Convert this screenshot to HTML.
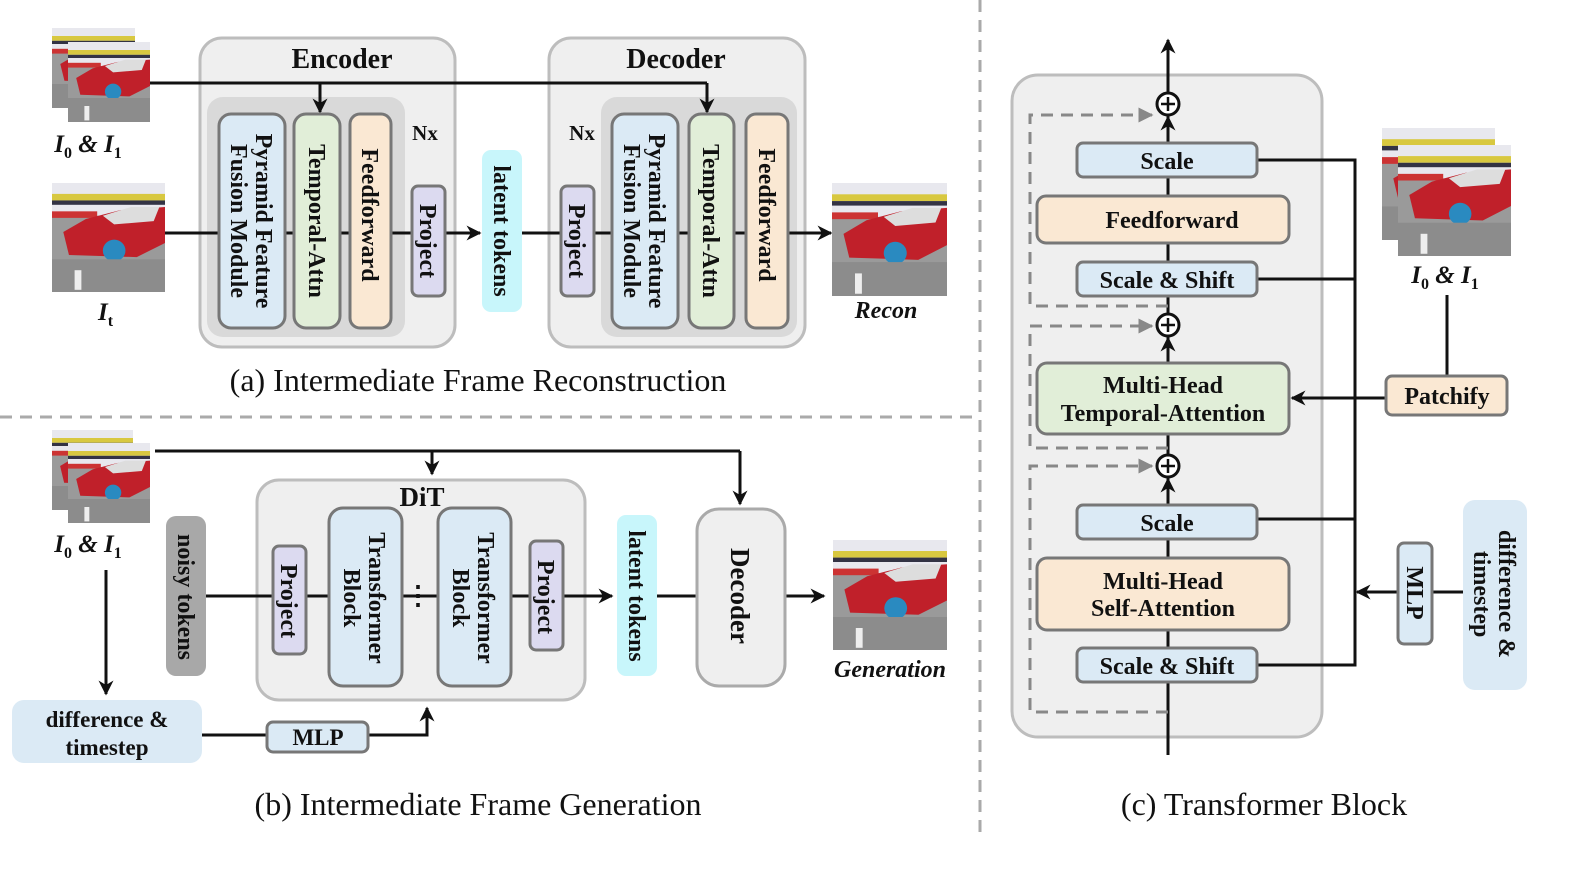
<!DOCTYPE html>
<html><head><meta charset="utf-8"><style>
html,body{margin:0;padding:0;background:#fff}
svg{display:block}
text{font-family:"Liberation Serif",serif;fill:#111}
.b{font-weight:bold}
</style></head><body>
<svg width="1578" height="888" viewBox="0 0 1578 888" xmlns="http://www.w3.org/2000/svg">
<defs>
<marker id="ar" viewBox="0 0 10 10" refX="9" refY="5" markerWidth="5" markerHeight="5" orient="auto"><path d="M0,0 L10,5 L0,10 L3,5z" fill="#111"/></marker>
<marker id="ag" viewBox="0 0 10 10" refX="9" refY="5" markerWidth="5" markerHeight="5" orient="auto"><path d="M0,0 L10,5 L0,10z" fill="#888"/></marker>
<symbol id="car" viewBox="0 0 100 100" preserveAspectRatio="none">
<rect width="100" height="100" fill="#9a9a9a"/>
<rect width="100" height="30" fill="#e8e8ee"/>
<rect y="10" width="100" height="6" fill="#d8c840"/>
<rect y="16" width="100" height="4" fill="#334"/>
<rect y="26" width="40" height="6" fill="#c33"/>
<path d="M10,45 L30,33 L60,25 L100,22 L100,55 L75,68 L15,66z" fill="#c0202a"/>
<path d="M45,30 L70,22 L95,22 L90,35 L55,38z" fill="#ddd"/>
<circle cx="55" cy="62" r="10" fill="#2a8ac0"/>
<rect y="70" width="100" height="30" fill="#8c8c8c"/>
<rect x="20" y="80" width="6" height="18" fill="#eee"/>
</symbol>
</defs>

<!-- dividers -->
<line x1="0" y1="417" x2="975" y2="417" stroke="#aaa" stroke-width="3" stroke-dasharray="12,8"/>
<line x1="980" y1="0" x2="980" y2="835" stroke="#aaa" stroke-width="3" stroke-dasharray="12,8"/>

<!-- ===== (a) ===== -->
<use href="#car" x="52" y="28" width="83" height="80"/>
<use href="#car" x="68" y="42" width="82" height="80"/>
<text x="88" y="152" font-size="25" class="b" text-anchor="middle" font-style="italic">I<tspan font-size="16" dy="6" font-style="normal">0</tspan><tspan dy="-6"> &amp; I</tspan><tspan font-size="16" dy="6" font-style="normal">1</tspan></text>
<use href="#car" x="52" y="183" width="113" height="109"/>
<text x="98" y="320" font-size="25" class="b" font-style="italic">I<tspan font-size="16" dy="6" font-style="normal">t</tspan></text>

<rect x="200" y="38" width="255" height="309" rx="22" fill="#efefef" stroke="#bdbdbd" stroke-width="3"/>
<text x="342" y="68" font-size="28" class="b" text-anchor="middle">Encoder</text>
<rect x="207" y="97" width="198" height="240" rx="16" fill="#d9d9d9"/>
<rect x="549" y="38" width="256" height="309" rx="22" fill="#efefef" stroke="#bdbdbd" stroke-width="3"/>
<text x="676" y="68" font-size="28" class="b" text-anchor="middle">Decoder</text>
<rect x="601" y="97" width="196" height="240" rx="16" fill="#d9d9d9"/>

<line x1="150" y1="83" x2="707" y2="83" stroke="#111" stroke-width="3"/>
<line x1="320" y1="83" x2="320" y2="112" stroke="#111" stroke-width="3" marker-end="url(#ar)"/>
<line x1="707" y1="83" x2="707" y2="112" stroke="#111" stroke-width="3" marker-end="url(#ar)"/>
<line x1="165" y1="233" x2="480" y2="233" stroke="#111" stroke-width="3" marker-end="url(#ar)"/>
<line x1="522" y1="233" x2="831" y2="233" stroke="#111" stroke-width="3" marker-end="url(#ar)"/>

<g stroke="#777" stroke-width="3">
<rect x="219" y="114" width="66" height="214" rx="12" fill="#dbeaf5"/>
<rect x="294" y="114" width="46" height="214" rx="12" fill="#e1eed8"/>
<rect x="350" y="114" width="41" height="214" rx="10" fill="#fae8d3"/>
<rect x="412" y="186" width="33" height="110" rx="6" fill="#dcdaf0"/>
<rect x="561" y="186" width="33" height="110" rx="6" fill="#dcdaf0"/>
<rect x="612" y="114" width="66" height="214" rx="12" fill="#dbeaf5"/>
<rect x="689" y="114" width="45" height="214" rx="12" fill="#e1eed8"/>
<rect x="746" y="114" width="42" height="214" rx="10" fill="#fae8d3"/>
</g>
<rect x="482" y="150" width="40" height="162" rx="9" fill="#c8f6fb"/>
<g font-size="24" class="b" text-anchor="middle">
<text transform="translate(252,221) rotate(90)"><tspan x="0" y="-4">Pyramid Feature</tspan><tspan x="0" y="21">Fusion Module</tspan></text>
<text transform="translate(317,221) rotate(90)" dy="8">Temporal-Attn</text>
<text transform="translate(370,215) rotate(90)" dy="8">Feedforward</text>
<text transform="translate(428,241) rotate(90)" dy="8">Project</text>
<text transform="translate(502,231) rotate(90)" dy="8">latent tokens</text>
<text transform="translate(577,241) rotate(90)" dy="8">Project</text>
<text transform="translate(645,221) rotate(90)"><tspan x="0" y="-4">Pyramid Feature</tspan><tspan x="0" y="21">Fusion Module</tspan></text>
<text transform="translate(711,221) rotate(90)" dy="8">Temporal-Attn</text>
<text transform="translate(767,215) rotate(90)" dy="8">Feedforward</text>
</g>
<text x="425" y="140" font-size="21" class="b" text-anchor="middle">Nx</text>
<text x="582" y="140" font-size="21" class="b" text-anchor="middle">Nx</text>
<use href="#car" x="832" y="183" width="115" height="113"/>
<text x="886" y="318" font-size="24" class="b" font-style="italic" text-anchor="middle">Recon</text>
<text x="478" y="391" font-size="32" text-anchor="middle">(a) Intermediate Frame Reconstruction</text>

<!-- ===== (b) ===== -->
<use href="#car" x="52" y="430" width="81" height="80"/>
<use href="#car" x="68" y="443" width="82" height="80"/>
<text x="88" y="552" font-size="25" class="b" text-anchor="middle" font-style="italic">I<tspan font-size="16" dy="6" font-style="normal">0</tspan><tspan dy="-6"> &amp; I</tspan><tspan font-size="16" dy="6" font-style="normal">1</tspan></text>
<line x1="106" y1="570" x2="106" y2="694" stroke="#111" stroke-width="3" marker-end="url(#ar)"/>
<rect x="12" y="700" width="190" height="63" rx="12" fill="#dbeaf5"/>
<text x="107" y="727" font-size="23" class="b" text-anchor="middle">difference &amp;</text>
<text x="107" y="755" font-size="23" class="b" text-anchor="middle">timestep</text>
<line x1="202" y1="735" x2="267" y2="735" stroke="#111" stroke-width="3"/>
<polyline points="368,735 427,735 427,708" fill="none" stroke="#111" stroke-width="3" marker-end="url(#ar)"/>
<rect x="267" y="722" width="101" height="30" rx="6" fill="#dbeaf5" stroke="#777" stroke-width="3"/>
<text x="318" y="745" font-size="23" class="b" text-anchor="middle">MLP</text>

<rect x="257" y="480" width="328" height="220" rx="22" fill="#efefef" stroke="#bdbdbd" stroke-width="3"/>
<text x="422" y="506" font-size="27" class="b" text-anchor="middle">DiT</text>
<line x1="155" y1="451" x2="740" y2="451" stroke="#111" stroke-width="3"/>
<line x1="432" y1="451" x2="432" y2="474" stroke="#111" stroke-width="3" marker-end="url(#ar)"/>
<line x1="740" y1="451" x2="740" y2="504" stroke="#111" stroke-width="3" marker-end="url(#ar)"/>
<rect x="166" y="516" width="40" height="160" rx="10" fill="#a8a8a8"/>
<line x1="206" y1="596" x2="612" y2="596" stroke="#111" stroke-width="3" marker-end="url(#ar)"/>
<line x1="657" y1="596" x2="697" y2="596" stroke="#111" stroke-width="3"/>
<line x1="785" y1="596" x2="824" y2="596" stroke="#111" stroke-width="3" marker-end="url(#ar)"/>
<g stroke="#777" stroke-width="3">
<rect x="273" y="546" width="33" height="108" rx="6" fill="#dcdaf0"/>
<rect x="329" y="508" width="73" height="178" rx="14" fill="#dbeaf5"/>
<rect x="438" y="508" width="73" height="178" rx="14" fill="#dbeaf5"/>
<rect x="530" y="541" width="33" height="109" rx="6" fill="#dcdaf0"/>
</g>
<rect x="617" y="515" width="40" height="161" rx="9" fill="#c8f6fb"/>
<rect x="697" y="509" width="88" height="177" rx="22" fill="#efefef" stroke="#aaa" stroke-width="3"/>
<g font-size="24" class="b" text-anchor="middle">
<text transform="translate(186,597) rotate(90)" dy="8">noisy tokens</text>
<text transform="translate(289,601) rotate(90)" dy="8">Project</text>
<text transform="translate(365,598) rotate(90)"><tspan x="0" y="-4">Transformer</tspan><tspan x="0" y="21">Block</tspan></text>
<text transform="translate(474,598) rotate(90)"><tspan x="0" y="-4">Transformer</tspan><tspan x="0" y="21">Block</tspan></text>
<text transform="translate(546,597) rotate(90)" dy="8">Project</text>
<text transform="translate(637,596) rotate(90)" dy="8">latent tokens</text>
<text transform="translate(741,596) rotate(90)" dy="10" font-size="27">Decoder</text>
</g>
<text x="418" y="604" font-size="26" class="b" text-anchor="middle">⋮</text>
<use href="#car" x="833" y="540" width="114" height="110"/>
<text x="890" y="677" font-size="24" class="b" font-style="italic" text-anchor="middle">Generation</text>
<text x="478" y="815" font-size="32" text-anchor="middle">(b) Intermediate Frame Generation</text>

<!-- ===== (c) ===== -->
<rect x="1012" y="75" width="310" height="662" rx="26" fill="#efefef" stroke="#bdbdbd" stroke-width="3"/>
<line x1="1168" y1="755" x2="1168" y2="40" stroke="#111" stroke-width="3" marker-end="url(#ar)"/>
<g fill="none" stroke="#888" stroke-width="3" stroke-dasharray="12,8">
<polyline points="1168,306 1030,306 1030,115 1152,115" marker-end="url(#ag)"/>
<polyline points="1168,448 1030,448 1030,326 1152,326" marker-end="url(#ag)"/>
<polyline points="1168,712 1030,712 1030,466 1152,466" marker-end="url(#ag)"/>
</g>
<g fill="#fff" stroke="#111" stroke-width="3">
<circle cx="1168" cy="104" r="11"/><circle cx="1168" cy="325" r="11"/><circle cx="1168" cy="466" r="11"/>
</g>
<g stroke="#111" stroke-width="2.5">
<path d="M1161,104h14M1168,97v14M1161,325h14M1168,318v14M1161,466h14M1168,459v14"/>
</g>
<line x1="1168" y1="140" x2="1168" y2="117" stroke="#111" stroke-width="3" marker-end="url(#ar)"/>
<line x1="1168" y1="360" x2="1168" y2="338" stroke="#111" stroke-width="3" marker-end="url(#ar)"/>
<line x1="1168" y1="503" x2="1168" y2="479" stroke="#111" stroke-width="3" marker-end="url(#ar)"/>
<g fill="none" stroke="#111" stroke-width="3">
<polyline points="1257,160 1355,160 1355,665 1257,665"/>
<line x1="1257" y1="279" x2="1355" y2="279"/>
<line x1="1257" y1="519" x2="1355" y2="519"/>
<line x1="1447" y1="295" x2="1447" y2="377"/>
</g>
<line x1="1398" y1="592" x2="1357" y2="592" stroke="#111" stroke-width="3" marker-end="url(#ar)"/>
<line x1="1463" y1="592" x2="1432" y2="592" stroke="#111" stroke-width="3"/>
<line x1="1386" y1="398" x2="1292" y2="398" stroke="#111" stroke-width="3" marker-end="url(#ar)"/>
<g stroke="#777" stroke-width="3">
<rect x="1077" y="143" width="180" height="34" rx="6" fill="#dbeaf5"/>
<rect x="1037" y="196" width="252" height="47" rx="9" fill="#fae8d3"/>
<rect x="1077" y="262" width="180" height="34" rx="6" fill="#dbeaf5"/>
<rect x="1037" y="363" width="252" height="71" rx="10" fill="#e1eed8"/>
<rect x="1077" y="505" width="180" height="34" rx="6" fill="#dbeaf5"/>
<rect x="1037" y="558" width="252" height="72" rx="10" fill="#fae8d3"/>
<rect x="1077" y="648" width="180" height="34" rx="6" fill="#dbeaf5"/>
<rect x="1386" y="376" width="121" height="39" rx="6" fill="#fae8d3"/>
<rect x="1398" y="543" width="34" height="101" rx="6" fill="#dbeaf5"/>
</g>
<rect x="1463" y="500" width="64" height="190" rx="12" fill="#dbeaf5"/>
<g font-size="24" class="b" text-anchor="middle">
<text x="1167" y="169">Scale</text>
<text x="1172" y="228">Feedforward</text>
<text x="1167" y="288">Scale &amp; Shift</text>
<text x="1163" y="393">Multi-Head</text>
<text x="1163" y="421">Temporal-Attention</text>
<text x="1167" y="531">Scale</text>
<text x="1163" y="589">Multi-Head</text>
<text x="1163" y="616">Self-Attention</text>
<text x="1167" y="674">Scale &amp; Shift</text>
<text x="1447" y="404">Patchify</text>
<text transform="translate(1415,593) rotate(90)" dy="8">MLP</text>
<text transform="translate(1495,594) rotate(90)"><tspan x="0" y="-4">difference &amp;</tspan><tspan x="0" y="21">timestep</tspan></text>
</g>
<use href="#car" x="1382" y="128" width="113" height="112"/>
<use href="#car" x="1398" y="145" width="113" height="111"/>
<text x="1445" y="283" font-size="25" class="b" text-anchor="middle" font-style="italic">I<tspan font-size="16" dy="6" font-style="normal">0</tspan><tspan dy="-6"> &amp; I</tspan><tspan font-size="16" dy="6" font-style="normal">1</tspan></text>
<text x="1264" y="815" font-size="32" text-anchor="middle">(c) Transformer Block</text>
</svg>
</body></html>
